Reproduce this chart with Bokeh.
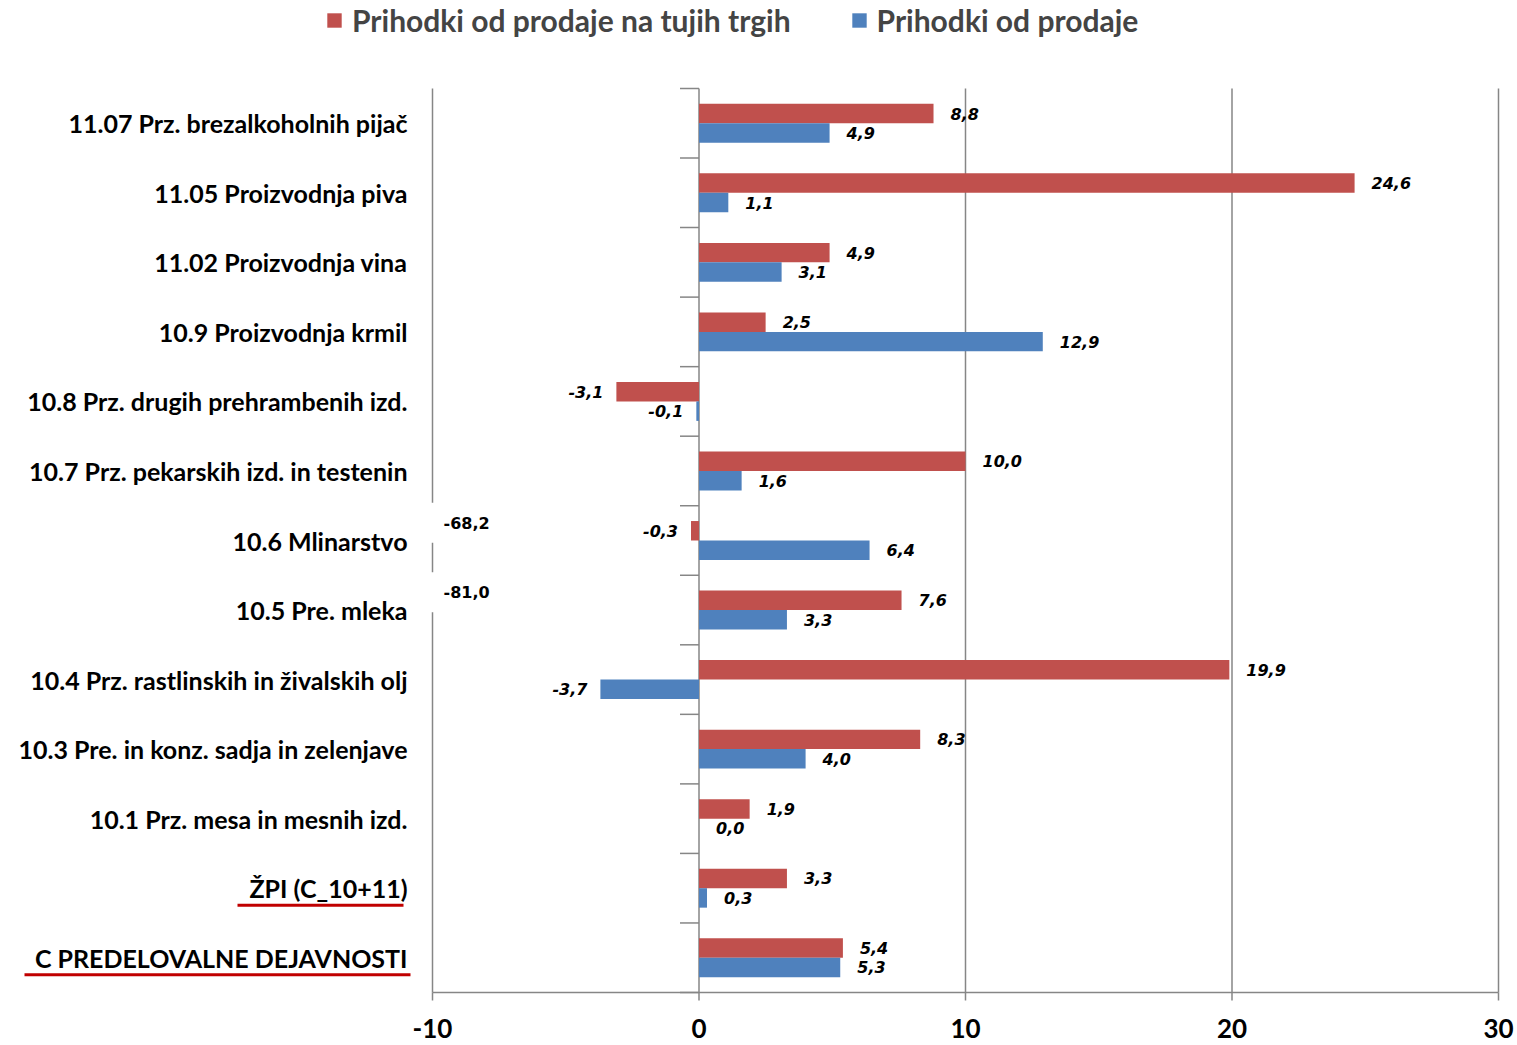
import numpy as np
from bokeh.plotting import figure
from bokeh.models import ColumnDataSource, Legend, LegendItem, Range1d
from bokeh.embed import file_html
from bokeh.resources import INLINE
from bokeh.core.properties import value

# ---------------- data ----------------
categories = [
    "11.07 Prz. brezalkoholnih pijač",
    "11.05 Proizvodnja piva",
    "11.02 Proizvodnja vina",
    "10.9 Proizvodnja krmil",
    "10.8 Prz. drugih prehrambenih izd.",
    "10.7 Prz. pekarskih izd. in testenin",
    "10.6 Mlinarstvo",
    "10.5 Pre. mleka",
    "10.4 Prz. rastlinskih in živalskih olj",
    "10.3 Pre. in konz. sadja in zelenjave",
    "10.1 Prz. mesa in mesnih izd.",
    "ŽPI (C_10+11)",
    "C PREDELOVALNE DEJAVNOSTI",
]
foreign_sales = [8.8, 24.6, 4.9, 2.5, -3.1, 10.0, -0.3, 7.6, 19.9, 8.3, 1.9, 3.3, 5.4]
sales = [4.9, 1.1, 3.1, 12.9, -0.1, 1.6, 6.4, 3.3, -3.7, 4.0, 0.0, 0.3, 5.3]
series_names = ["Prihodki od prodaje na tujih trgih", "Prihodki od prodaje"]
note_categories = ["10.6 Mlinarstvo", "10.5 Pre. mleka"]
note_values = [-68.2, -81.0]
underlined = ["ŽPI (C_10+11)", "C PREDELOVALNE DEJAVNOSTI"]
x_ticks = [-10, 0, 10, 20, 30]
x_tick_labels = ["-10", "0", "10", "20", "30"]

# ---------------- layout constants ----------------
FRAME_W, FRAME_H = 1517, 1045
TOP_BAND = 88          # legend area above the categories
PLOT_BOTTOM = 992      # pixel row of the category axis bottom
AX_LEFT_PX, AX_RIGHT_PX = 432, 1498
XMIN, XMAX = x_ticks[0], x_ticks[-1]
ppu = (AX_RIGHT_PX - AX_LEFT_PX) / (XMAX - XMIN)
n = len(categories)
band = (PLOT_BOTTOM - TOP_BAND) / n

RED = "#C0504D"
BLUE = "#4F81BD"
GRID = "#868686"


def fmt(v):
    return f"{v:.1f}".replace(".", ",")


ypos = [n - 1 - i for i in range(n)]
pos_of = dict(zip(categories, ypos))
BAR_H = 0.28
y_bottom = -0.5

p = figure(
    frame_width=FRAME_W, frame_height=FRAME_H,
    x_range=Range1d(XMIN - AX_LEFT_PX / ppu, XMAX + (FRAME_W - AX_RIGHT_PX) / ppu),
    y_range=Range1d(y_bottom - (FRAME_H - PLOT_BOTTOM) / band, n - 0.5 + TOP_BAND / band),
    output_backend="svg", toolbar_location=None,
    min_border=0, outline_line_color=None,
    x_axis_location=None, y_axis_location=None,
)
p.xgrid.visible = False
p.ygrid.visible = False

# vertical grid lines (incl. -10 line and zero line)
p.segment(x0=x_ticks, y0=[y_bottom] * len(x_ticks), x1=x_ticks, y1=[n - 0.5] * len(x_ticks),
          line_color=GRID, line_width=1.5)
# category tick marks on the zero line
bounds = [k - 0.5 for k in range(n + 1)]
p.segment(x0=[0] * len(bounds), y0=bounds, x1=[-19 / ppu] * len(bounds), y1=bounds,
          line_color=GRID, line_width=1.5)

# value axis: line, ticks and labels
p.segment(x0=[XMIN], y0=[y_bottom], x1=[XMAX], y1=[y_bottom], line_color=GRID, line_width=1.5)
p.segment(x0=x_ticks, y0=[y_bottom] * len(x_ticks), x1=x_ticks,
          y1=[y_bottom - 8 / band] * len(x_ticks), line_color=GRID, line_width=1.5)
p.text(x=x_ticks, y=[y_bottom] * len(x_ticks), text=x_tick_labels, y_offset=36,
       text_align="center", text_baseline="middle",
       text_font=value("Lato"), text_font_style="bold", text_font_size="26px",
       text_color="black")

src = ColumnDataSource(dict(
    y_red=[y + BAR_H / 2 for y in ypos],
    y_blue=[y - BAR_H / 2 for y in ypos],
    red=foreign_sales, blue=sales,
))
r_red = p.hbar(y="y_red", left=0, right="red", height=BAR_H, source=src,
               fill_color=RED, line_color=None)
r_blue = p.hbar(y="y_blue", left=0, right="blue", height=BAR_H, source=src,
                fill_color=BLUE, line_color=None)

# value labels
lab_y, lab_x, lab_t, lab_off, lab_al = [], [], [], [], []
for vals, ys in ((foreign_sales, src.data["y_red"]), (sales, src.data["y_blue"])):
    for v, y in zip(vals, ys):
        lab_y.append(y)
        lab_x.append(v)
        lab_t.append(fmt(v))
        lab_off.append(17 if v >= 0 else -13)
        lab_al.append("left" if v >= 0 else "right")
p.text(x="x", y="y", text="t", x_offset="off", text_align="al",
       source=ColumnDataSource(dict(x=lab_x, y=lab_y, t=lab_t, off=lab_off, al=lab_al)),
       text_baseline="middle", text_font=value("DejaVu Sans"),
       text_font_style="bold italic", text_font_size="16px", text_color="black")

# notes for clipped values (white boxes over the -10 line)
p.text(x=[XMIN] * len(note_values),
       y=[pos_of[c] + BAR_H / 2 for c in note_categories],
       text=[fmt(v) for v in note_values],
       x_offset=-3, y_offset=-8, text_align="left", text_baseline="middle",
       text_font=value("DejaVu Sans"), text_font_style="bold", text_font_size="16px",
       text_color="black", background_fill_color="white", padding=14)

# category labels
p.text(x=[XMIN] * n, y=ypos, text=categories, x_offset=-25,
       text_align="right", text_baseline="middle",
       text_font=value("Lato"), text_font_style="bold", text_font_size="25px",
       text_color="black")

# red underlines of the two aggregate categories
ul_left_px = {"ŽPI (C_10+11)": 195, "C PREDELOVALNE DEJAVNOSTI": 408}
ul_right_px = {"ŽPI (C_10+11)": 29, "C PREDELOVALNE DEJAVNOSTI": 22}
p.segment(x0=[XMIN - ul_left_px[c] / ppu for c in underlined],
          x1=[XMIN - ul_right_px[c] / ppu for c in underlined],
          y0=[pos_of[c] - 17 / band for c in underlined],
          y1=[pos_of[c] - 17 / band for c in underlined],
          line_color="#C00000", line_width=3)

legend = Legend(
    items=[LegendItem(label=series_names[0], renderers=[r_red]),
           LegendItem(label=series_names[1], renderers=[r_blue])],
    orientation="horizontal", location=(325, FRAME_H - 4 - 34),
    label_text_font="Lato", label_text_font_style="bold", label_text_font_size="30px",
    glyph_width=18, glyph_height=18, label_standoff=9, spacing=59,
    padding=0, margin=0, border_line_color=None, background_fill_alpha=0,
    label_height=34,
)
p.add_layout(legend)

open("out.html", "w").write(file_html(p, INLINE))
